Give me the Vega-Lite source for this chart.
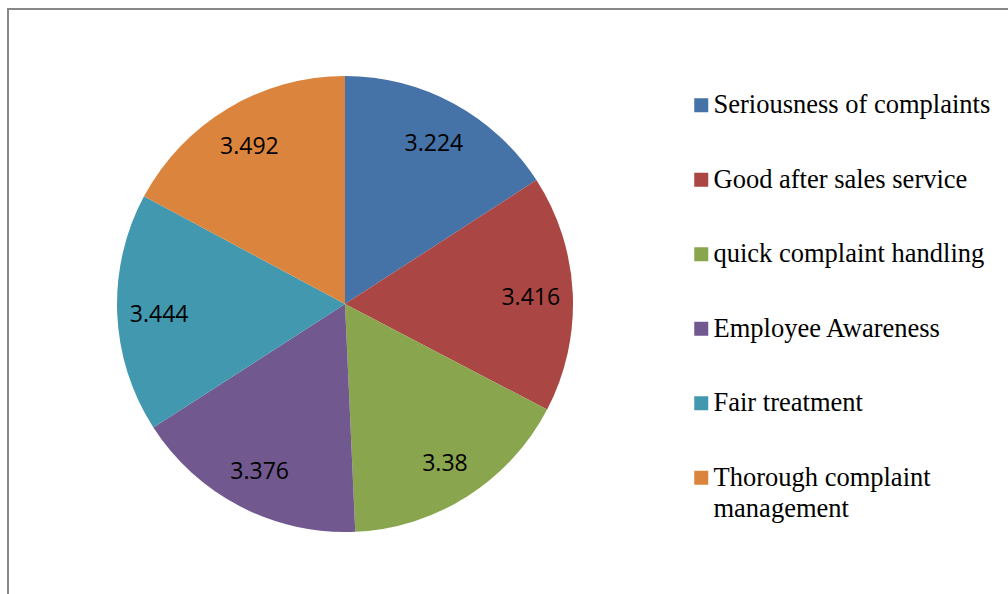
{
  "$schema": "https://vega.github.io/schema/vega-lite/v6.json",
  "width": 1010,
  "height": 600,
  "padding": {"left": 8, "top": 9, "right": 0, "bottom": 0},
  "autosize": {"type": "none"},
  "background": "white",
  "config": {"view": {"stroke": null}},
  "data": {
    "values": [
      {"category": "Seriousness of complaints", "value": 3.224, "order": 1},
      {"category": "Good after sales service", "value": 3.416, "order": 2},
      {"category": "quick complaint handling", "value": 3.38, "order": 3},
      {"category": "Employee Awareness", "value": 3.376, "order": 4},
      {"category": "Fair treatment", "value": 3.444, "order": 5},
      {"category": "Thorough complaint management", "value": 3.492, "order": 6}
    ]
  },
  "layer": [
    {
      "data": {"values": [{"frame": "border"}]},
      "mark": {"type": "rect", "fill": null, "stroke": "#888888", "strokeWidth": 2},
      "encoding": {
        "x": {"value": 0},
        "y": {"value": 0},
        "x2": {"value": "width"},
        "y2": {"value": "height"}
      }
    },
    {
      "mark": {"type": "arc", "outerRadius": 228, "x": 337, "y": 295},
      "encoding": {
        "theta": {"field": "value", "type": "quantitative", "stack": true},
        "order": {"field": "order", "type": "quantitative"},
        "color": {
          "field": "category",
          "type": "nominal",
          "sort": ["Seriousness of complaints", "Good after sales service", "quick complaint handling", "Employee Awareness", "Fair treatment", "Thorough complaint management"],
          "scale": {
            "domain": ["Seriousness of complaints", "Good after sales service", "quick complaint handling", "Employee Awareness", "Fair treatment", "Thorough complaint management"],
            "range": ["#4572A7", "#AA4643", "#89A54E", "#71588F", "#4198AF", "#DB843D"]
          },
          "legend": {
            "title": null,
            "orient": "none",
            "legendX": 680,
            "legendY": 83,
            "padding": 0,
            "symbolType": "square",
            "symbolSize": 196,
            "symbolStrokeWidth": 0,
            "labelFont": "Liberation Serif",
            "labelFontSize": 26.5,
            "labelColor": "#000000",
            "labelOffset": -1,
            "labelLimit": 400,
            "rowPadding": 47.5,
            "labelExpr": "datum.label == 'Thorough complaint management' ? ['Thorough complaint', 'management'] : datum.label",
            "encode": {
              "labels": {"update": {"lineHeight": {"value": 31}}}
            }
          }
        }
      }
    },
    {
      "mark": {"type": "text", "radius": 186, "x": 337, "y": 295, "dy": 3, "font": "Open Sans", "fontSize": 23},
      "encoding": {
        "theta": {"field": "value", "type": "quantitative", "stack": true},
        "order": {"field": "order", "type": "quantitative"},
        "color": {"value": "#000000"},
        "text": {"field": "value", "type": "quantitative", "format": ".4~f"}
      }
    }
  ]
}
